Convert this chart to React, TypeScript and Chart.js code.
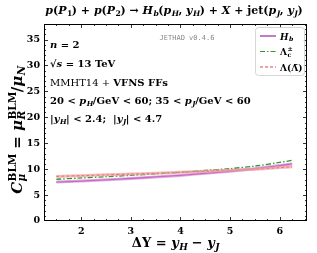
import React, { useEffect, useRef } from "react";
import { Chart, registerables } from "chart.js";
Chart.register(...registerables);

const deltaY = [1.5, 2, 2.5, 3, 3.5, 4, 4.5, 5, 5.5, 6, 6.25];
const hb = [7.5, 7.7, 7.95, 8.2, 8.5, 8.8, 9.2, 9.6, 10.1, 10.7, 11.0];
const lambdaC = [8.05, 8.3, 8.55, 8.8, 9.1, 9.4, 9.75, 10.1, 10.6, 11.3, 11.7];
const lambda = [8.6, 8.75, 8.9, 9.05, 9.2, 9.4, 9.6, 9.8, 10.0, 10.3, 10.45];
const xTicks = [2, 3, 4, 5, 6];
const yTicks = [0, 5, 10, 15, 20, 25, 30, 35];
const X_MIN = 1.25, X_MAX = 6.55, Y_MIN = 0, Y_MAX = 38;

const SERIF = '"DejaVu Serif", "Liberation Serif", serif';

type Seg = { t: string; i?: boolean; b?: boolean; sub?: string; sup?: string; subI?: boolean; mono?: boolean };

function fontFor(size: number, i?: boolean, b?: boolean, mono?: boolean) {
  return `${i ? "italic " : ""}${b ? "bold " : ""}${size}px ${mono ? '"DejaVu Sans Mono", monospace' : SERIF}`;
}

function drawRich(ctx: CanvasRenderingContext2D, segs: Seg[], x: number, y: number, size: number, align: "left" | "center", color = "#000") {
  const ss = size * 0.7;
  const widths = segs.map((s) => {
    ctx.font = fontFor(size, s.i, s.b, s.mono);
    let w = ctx.measureText(s.t).width;
    let e = 0;
    if (s.sub) { ctx.font = fontFor(ss, s.subI ?? s.i, s.b); e = Math.max(e, ctx.measureText(s.sub).width); }
    if (s.sup) { ctx.font = fontFor(ss, false, s.b); e = Math.max(e, ctx.measureText(s.sup).width); }
    return { w, e };
  });
  const total = widths.reduce((a, b) => a + b.w + b.e, 0);
  let cx = align === "center" ? x - total / 2 : x;
  ctx.fillStyle = color;
  ctx.textBaseline = "alphabetic";
  ctx.textAlign = "left";
  segs.forEach((s, k) => {
    ctx.font = fontFor(size, s.i, s.b, s.mono);
    ctx.fillText(s.t, cx, y);
    cx += widths[k].w;
    if (s.sub) { ctx.font = fontFor(ss, s.subI ?? s.i, s.b); ctx.fillText(s.sub, cx + 0.5, y + size * 0.22); }
    if (s.sup) { ctx.font = fontFor(ss, false, s.b); ctx.fillText(s.sup, cx + 0.5, y - size * 0.4); }
    cx += widths[k].e;
  });
}

const overlay = {
  id: "overlay",
  afterDraw(chart: any) {
    const { ctx, chartArea, scales } = chart;
    const { left, right, top, bottom } = chartArea;
    const xs = scales.x, ys = scales.y;
    ctx.save();
    ctx.strokeStyle = "#000";
    ctx.lineWidth = 1;
    ctx.strokeRect(left + 0.5, top + 0.5, right - left - 1, bottom - top - 1);
    ctx.lineWidth = 0.8;
    ctx.beginPath();
    for (let v = 1.5; v <= X_MAX + 1e-9; v += 0.25) {
      const px = Math.round(xs.getPixelForValue(v)) + 0.5;
      const L = Math.abs(v - Math.round(v)) < 1e-6 ? 4 : 2;
      ctx.moveTo(px, bottom); ctx.lineTo(px, bottom - L);
      ctx.moveTo(px, top); ctx.lineTo(px, top + L);
    }
    for (let v = 1; v <= Y_MAX; v += 1) {
      const py = Math.round(ys.getPixelForValue(v)) + 0.5;
      const L = v % 5 === 0 ? 4 : 2;
      ctx.moveTo(left, py); ctx.lineTo(left + L, py);
      ctx.moveTo(right, py); ctx.lineTo(right - L, py);
    }
    ctx.stroke();

    // Title
    drawRich(ctx, [
      { t: "p", i: true, b: true }, { t: "(", b: true }, { t: "P", i: true, b: true, sub: "1", subI: false },
      { t: ") + ", b: true }, { t: "p", i: true, b: true }, { t: "(", b: true }, { t: "P", i: true, b: true, sub: "2", subI: false },
      { t: ") → ", b: true }, { t: "H", i: true, b: true, sub: "b" }, { t: "(", b: true }, { t: "p", i: true, b: true, sub: "H" },
      { t: ", ", b: true }, { t: "y", i: true, b: true, sub: "H" }, { t: ") + ", b: true }, { t: "X", i: true, b: true },
      { t: " + jet(", b: true }, { t: "p", i: true, b: true, sub: "J" }, { t: ", ", b: true }, { t: "y", i: true, b: true, sub: "J" }, { t: ")", b: true },
    ], 174, 14, 11, "center");

    // X title
    drawRich(ctx, [
      { t: "ΔY", b: true }, { t: " = ", b: true }, { t: "y", i: true, b: true, sub: "H" }, { t: " − ", b: true }, { t: "y", i: true, b: true, sub: "J" },
    ], (left + right) / 2, 247, 13, "center");

    // Y title
    ctx.save();
    ctx.translate(22, 130);
    ctx.rotate(-Math.PI / 2);
    drawRich(ctx, [
      { t: "C", i: true, b: true, sub: "μ", sup: "BLM" }, { t: " = ", b: true }, { t: "μ", i: true, b: true, sub: "R", sup: "BLM" },
      { t: "/", b: true }, { t: "μ", i: true, b: true, sub: "N" },
    ], 0, 0, 15, "center");
    ctx.restore();

    // Annotations
    drawRich(ctx, [{ t: "JETHAD v0.4.6", mono: true }], 187, 40, 7, "center", "#888");
    const ax = left + 6;
    drawRich(ctx, [{ t: "n", i: true, b: true }, { t: " = 2", b: true }], ax, 48, 10, "left");
    drawRich(ctx, [{ t: "√", b: true }, { t: "s", i: true, b: true }, { t: " = 13 TeV", b: true }], ax, 67, 10, "left");
    drawRich(ctx, [{ t: "MMHT14 + " }, { t: "VFNS FFs", b: true }], ax, 86, 10, "left");
    drawRich(ctx, [
      { t: "20 < ", b: true }, { t: "p", i: true, b: true, sub: "H" }, { t: "/GeV < 60; 35 < ", b: true },
      { t: "p", i: true, b: true, sub: "J" }, { t: "/GeV < 60", b: true },
    ], ax, 104, 10, "left");
    drawRich(ctx, [
      { t: "|", b: true }, { t: "y", i: true, b: true, sub: "H" }, { t: "| < 2.4;  |", b: true },
      { t: "y", i: true, b: true, sub: "J" }, { t: "| < 4.7", b: true },
    ], ax, 122, 10, "left");

    // Legend
    const lx = 255, ly = 27, lw = 49, lh = 48;
    ctx.fillStyle = "rgba(255,255,255,0.9)";
    ctx.strokeStyle = "#ccc";
    ctx.lineWidth = 0.8;
    ctx.beginPath();
    ctx.roundRect(lx + 0.5, ly + 0.5, lw, lh, 3);
    ctx.fill();
    ctx.stroke();
    const entries = [
      { c: "#a020a0", d: [] as number[], segs: [{ t: "H", i: true, b: true, sub: "b" }] as Seg[] },
      { c: "#2a9a2a", d: [5, 2, 1.5, 2], segs: [{ t: "Λ", b: true, sub: "c", sup: "±" }] as Seg[] },
      { c: "#d84a4a", d: [3, 2], segs: [{ t: "Λ(", b: true }, { t: "Λ̄", b: true }, { t: ")", b: true }] as Seg[] },
    ];
    entries.forEach((e, k) => {
      const yy = ly + 9 + k * 15.5;
      ctx.strokeStyle = e.c;
      ctx.lineWidth = 1.2;
      ctx.setLineDash(e.d);
      ctx.beginPath();
      ctx.moveTo(lx + 5, yy); ctx.lineTo(lx + 21, yy);
      ctx.stroke();
      ctx.setLineDash([]);
      drawRich(ctx, e.segs, lx + 25, yy + 3.5, 9, "left");
    });
    ctx.restore();
  },
};

export default function App() {
  const ref = useRef<HTMLCanvasElement | null>(null);
  useEffect(() => {
    if (!ref.current) return;
    const pts = (arr: number[]) => deltaY.map((x, i) => ({ x, y: arr[i] }));
    const chart = new Chart(ref.current, {
      type: "line",
      data: {
        datasets: [
          { data: pts(lambda), borderColor: "rgba(240,160,160,0.7)", borderWidth: 3, pointRadius: 0, tension: 0.3 },
          { data: pts(hb), borderColor: "rgba(215,140,215,0.7)", borderWidth: 3, pointRadius: 0, tension: 0.3 },
          { data: pts(hb), borderColor: "#a020a0", borderWidth: 1.3, pointRadius: 0, tension: 0.3 },
          { data: pts(lambdaC), borderColor: "#2a9a2a", borderWidth: 1.3, borderDash: [5, 2, 1.5, 2], pointRadius: 0, tension: 0.3 },
          { data: pts(lambda), borderColor: "#cc3030", borderWidth: 1.2, borderDash: [3, 2], pointRadius: 0, tension: 0.3 },
        ],
      },
      options: {
        animation: false,
        responsive: false,
        layout: { padding: { top: 24, right: 10, left: 0, bottom: 0 } },
        plugins: { legend: { display: false }, tooltip: { enabled: false }, title: { display: false } },
        scales: {
          x: {
            type: "linear", min: X_MIN, max: X_MAX,
            grid: { display: false, drawTicks: false },
            border: { display: false },
            afterBuildTicks: (s: any) => { s.ticks = xTicks.map((v) => ({ value: v })); },
            afterFit: (s: any) => { s.height = 32; },
            ticks: { color: "#000", padding: 5, font: { family: SERIF, size: 9.5, weight: "bold" } },
          },
          y: {
            type: "linear", min: Y_MIN, max: Y_MAX,
            grid: { display: false, drawTicks: false },
            border: { display: false },
            afterBuildTicks: (s: any) => { s.ticks = yTicks.map((v) => ({ value: v })); },
            afterFit: (s: any) => { s.width = 44; },
            ticks: { color: "#000", padding: 4, font: { family: SERIF, size: 9.5, weight: "bold" } },
          },
        },
      },
      plugins: [overlay],
    } as any);
    return () => chart.destroy();
  }, []);
  return (
    <div style={{ position: "absolute", left: 0, top: 0, width: 317, height: 253, background: "#fff" }}>
      <canvas ref={ref} width={317} height={253} />
    </div>
  );
}
